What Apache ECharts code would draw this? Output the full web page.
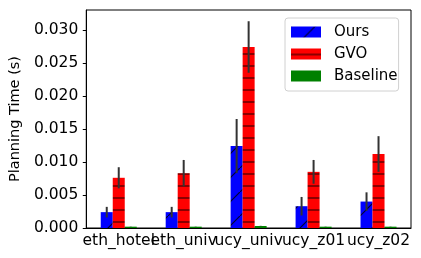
<!DOCTYPE html>
<html>
<head>
<meta charset="utf-8">
<script src="https://cdn.jsdelivr.net/npm/echarts@6/dist/echarts.min.js"></script>
<style>
html,body{margin:0;padding:0;background:#fff;}
#c{width:421px;height:258px;}
</style>
</head>
<body>
<div id="c"></div>
<script>
const categories = ['eth_hotel', 'eth_univ', 'ucy_univ', 'ucy_z01', 'ucy_z02'];
const oursMean = [0.0024, 0.0024, 0.0124, 0.0033, 0.0040];
const oursErr  = [0.0008, 0.0008, 0.0041, 0.0014, 0.0014];
const gvoMean  = [0.0076, 0.0083, 0.0274, 0.0085, 0.0112];
const gvoErr   = [0.0016, 0.0020, 0.0039, 0.0018, 0.0027];
const baseMean = [0.0002, 0.0002, 0.0003, 0.0002, 0.0002];
const baseErr  = [0.00002, 0.00002, 0.00003, 0.00002, 0.00002];
const yTicks = [0, 0.005, 0.010, 0.015, 0.020, 0.025, 0.030];

const FONT = 'DejaVu Sans';

function makeTile(w, h, draw) {
  const c = document.createElement('canvas');
  c.width = w; c.height = h;
  draw(c.getContext('2d'));
  return c;
}
const redTile = makeTile(12, 12, ctx => {
  ctx.fillStyle = '#ff0000'; ctx.fillRect(0, 0, 12, 12);
  ctx.fillStyle = '#8b0000'; ctx.fillRect(0, 5, 12, 2);
});
const blueTile = makeTile(24, 24, ctx => {
  ctx.fillStyle = '#0000ff'; ctx.fillRect(0, 0, 24, 24);
  ctx.strokeStyle = '#000033'; ctx.lineWidth = 1.2;
  ctx.beginPath(); ctx.moveTo(-2, 26); ctx.lineTo(26, -2); ctx.stroke();
});
const bluePattern = { image: blueTile, repeat: 'repeat' };
const redPattern = { image: redTile, repeat: 'repeat' };

function errSeries(name, means, errs, offset) {
  return {
    type: 'custom',
    name: name + '_err',
    z: 10,
    silent: true,
    data: means.map((m, i) => [i, m, errs[i]]),
    encode: { x: 0, y: 1 },
    renderItem: function (params, api) {
      const i = api.value(0), m = api.value(1), e = api.value(2);
      const p1 = api.coord([i, m - e]);
      const p2 = api.coord([i, m + e]);
      const x = p1[0] + offset;
      return {
        type: 'line',
        shape: { x1: x, y1: p1[1], x2: x, y2: p2[1] },
        style: { stroke: '#333333', lineWidth: 2 }
      };
    }
  };
}

const chart = echarts.init(document.getElementById('c'), null, { renderer: 'canvas' });
chart.setOption({
  animation: false,
  backgroundColor: '#ffffff',
  grid: { left: 76, right: 10, top: 10, bottom: 30, show: true, borderColor: '#000', borderWidth: 1, backgroundColor: 'transparent' },
  legend: {
    data: ['Ours', 'GVO', 'Baseline'],
    orient: 'vertical',
    left: 285, top: 18,
    padding: [6, 1, 7, 6],
    itemWidth: 30, itemHeight: 11, itemGap: 6,
    borderColor: '#d0d0d0', borderWidth: 1, borderRadius: 3,
    backgroundColor: 'rgba(255,255,255,0.8)',
    icon: 'rect',
    textStyle: { fontFamily: FONT, fontSize: 15, color: '#000', lineHeight: 16, padding: [0, 0, 0, 8] }
  },
  xAxis: {
    type: 'category',
    data: categories,
    axisLine: { lineStyle: { color: '#000', width: 1 } },
    axisTick: { alignWithLabel: true, length: 3.5, lineStyle: { color: '#000' } },
    axisLabel: { fontFamily: FONT, fontSize: 15.5, color: '#000', margin: 5, interval: 0 },
    splitLine: { show: false }
  },
  yAxis: {
    type: 'value',
    min: 0, max: 0.033,
    name: 'Planning Time (s)',
    nameLocation: 'middle',
    nameGap: 55,
    nameTextStyle: { fontFamily: FONT, fontSize: 14.5, color: '#000' },
    axisLine: { show: true, lineStyle: { color: '#000', width: 1 } },
    axisTick: { show: true, length: 3.5, lineStyle: { color: '#000' }, customValues: yTicks },
    axisLabel: { fontFamily: FONT, fontSize: 15.5, color: '#000', margin: 8, customValues: yTicks, formatter: v => v.toFixed(3) },
    splitLine: { show: false }
  },
  series: [
    { name: 'Ours', type: 'bar', data: oursMean, barWidth: 12, barGap: '0%', itemStyle: { color: bluePattern } },
    { name: 'GVO', type: 'bar', data: gvoMean, barWidth: 12, barGap: '0%', itemStyle: { color: redPattern } },
    { name: 'Baseline', type: 'bar', data: baseMean, barWidth: 12, barGap: '0%', itemStyle: { color: '#008000' } },
    errSeries('Ours', oursMean, oursErr, -12),
    errSeries('GVO', gvoMean, gvoErr, 0),
    errSeries('Baseline', baseMean, baseErr, 12)
  ]
});
</script>
</body>
</html>
